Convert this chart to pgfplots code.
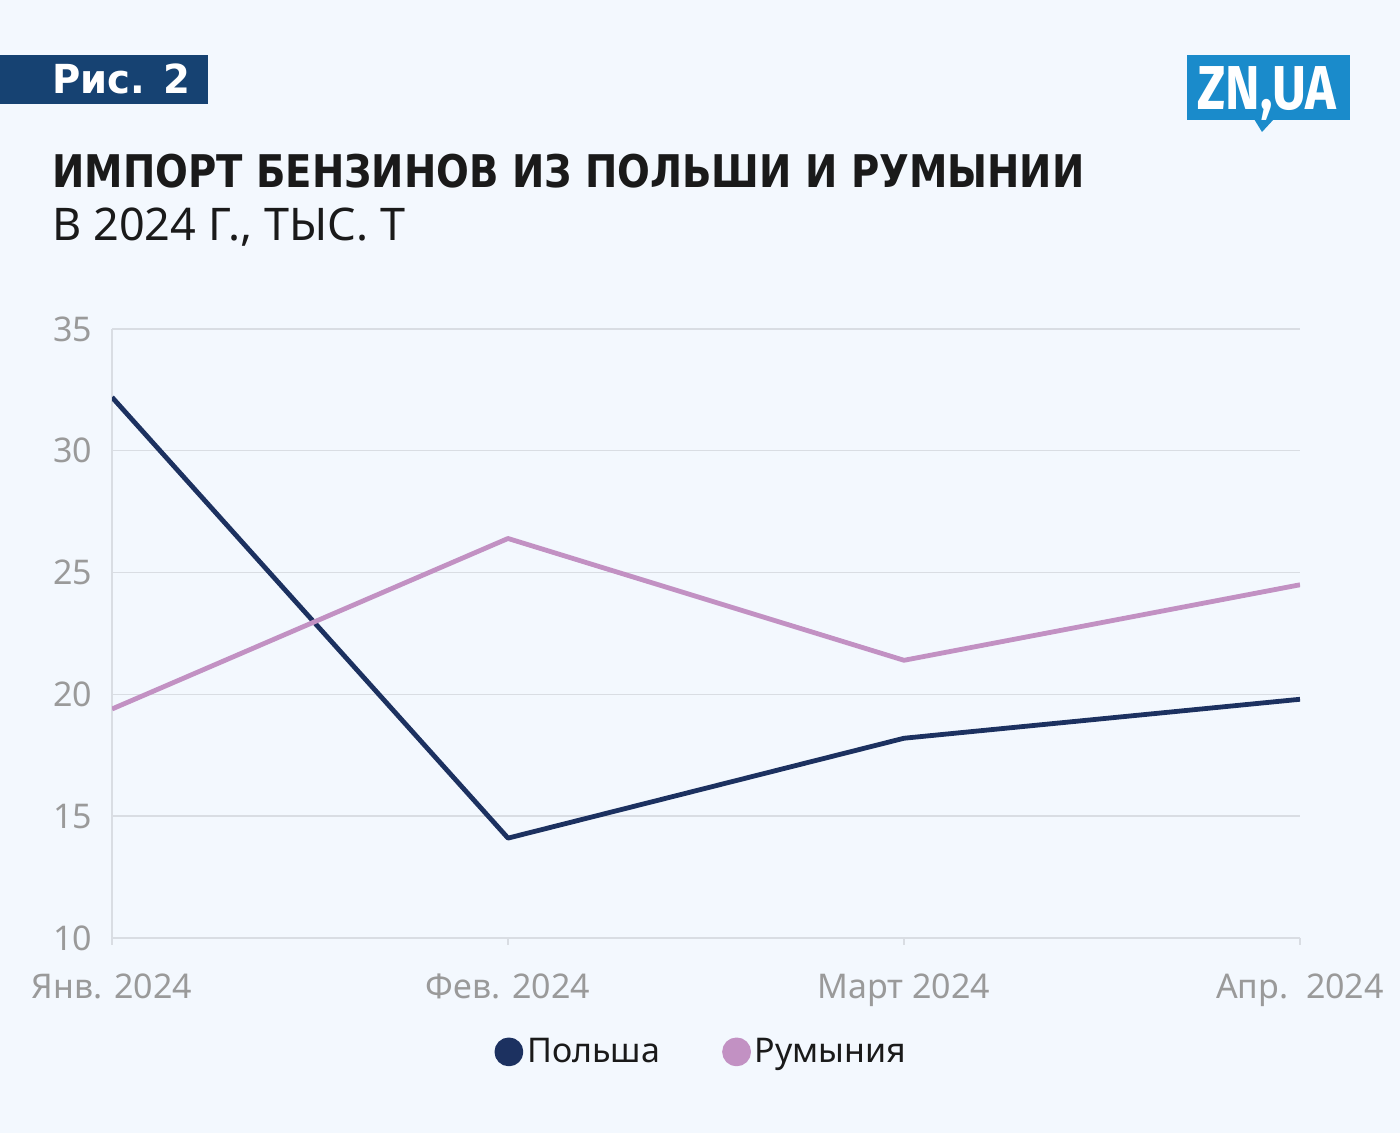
\documentclass[border=0pt]{standalone}
\usepackage{fontspec}
\setmainfont{Noto Sans}
\newfontfamily\dejavu{DejaVu Sans}
\newfontfamily\fira{Fira Sans}
\usepackage{pgfplots}
\pgfplotsset{compat=1.18}
\definecolor{bg}{HTML}{F3F8FE}
\definecolor{pol}{HTML}{1C3160}
\definecolor{rom}{HTML}{C291C3}
\definecolor{hdr}{HTML}{164272}
\definecolor{logo}{HTML}{1A8BCB}
\definecolor{gridc}{HTML}{D9DDE3}
\definecolor{tickc}{HTML}{9A9A9A}
\definecolor{txt}{HTML}{1A1A1A}
\begin{document}
\begin{tikzpicture}
\fill[bg] (0,0) rectangle (700pt,566.5pt);
% header tag
\fill[hdr] (0,514.5pt) rectangle (104pt,539pt);
\node[anchor=base west, text=white, font=\dejavu\bfseries\fontsize{20}{24}\selectfont, inner sep=0] at (26pt,519.5pt) {\scalebox{0.965}[1]{Рис. 2}};
% logo
\fill[logo] (593.5pt,506.5pt) rectangle (675pt,539pt);
\fill[logo] (627pt,507pt) -- (637pt,507pt) -- (631pt,500.5pt) -- cycle;
\node[anchor=base, text=white, font=\fira\bfseries\fontsize{31}{32}\selectfont, inner sep=0] at (633.5pt,511.5pt) {\scalebox{0.84}[1]{ZN,UA}};
% title
\node[anchor=base west, text=txt, font=\dejavu\bfseries\fontsize{22.5}{26}\selectfont, inner sep=0] at (26pt,472.5pt) {\scalebox{0.858}[1]{ИМПОРТ БЕНЗИНОВ ИЗ ПОЛЬШИ И РУМЫНИИ}};
\node[anchor=base west, text=txt, font=\fontsize{22.5}{26}\selectfont, inner sep=0] at (26pt,446pt) {В 2024 Г., ТЫС. Т};
\begin{axis}[
  at={(56pt,97.5pt)}, anchor=south west,
  scale only axis, width=594pt, height=304.5pt,
  xmin=0, xmax=3, ymin=10, ymax=35,
  xtick={0,1,2,3},
  xticklabels={Янв. 2024, Фев. 2024, Март 2024, Апр.\ \ 2024},
  ytick={10,15,20,25,30,35},
  axis x line*=bottom, axis y line*=left,
  axis line style={gridc, line width=0.7pt},
  ymajorgrids, major grid style={gridc, line width=0.7pt},
  tick align=outside, major tick length=3.5pt,
  xtick style={gridc, line width=0.7pt},
  ytick style={draw=none},
  /pgf/number format/assume math mode=true,
  tick label style={text=tickc, font=\fontsize{17}{20}\selectfont},
  yticklabel style={xshift=-3pt},
  xticklabel style={yshift=-11pt},
  legend columns=2,
  legend style={at={(0.497,-0.187)}, anchor=center, draw=none, fill=none,
    font=\fontsize{17}{20}\selectfont, text=txt,
    /tikz/every even column/.append style={column sep=29pt}},
  legend image code/.code={\fill[#1] (0pt,0pt) circle (6pt);},
]
\addplot[pol, line width=2.4pt, line join=round] coordinates {(0,32.2) (1,14.1) (2,18.2) (3,19.8)};
\addlegendentry{Польша}
\addplot[rom, line width=2.4pt, line join=round] coordinates {(0,19.4) (1,26.4) (2,21.4) (3,24.5)};
\addlegendentry{Румыния}
\end{axis}
\end{tikzpicture}
\end{document}
